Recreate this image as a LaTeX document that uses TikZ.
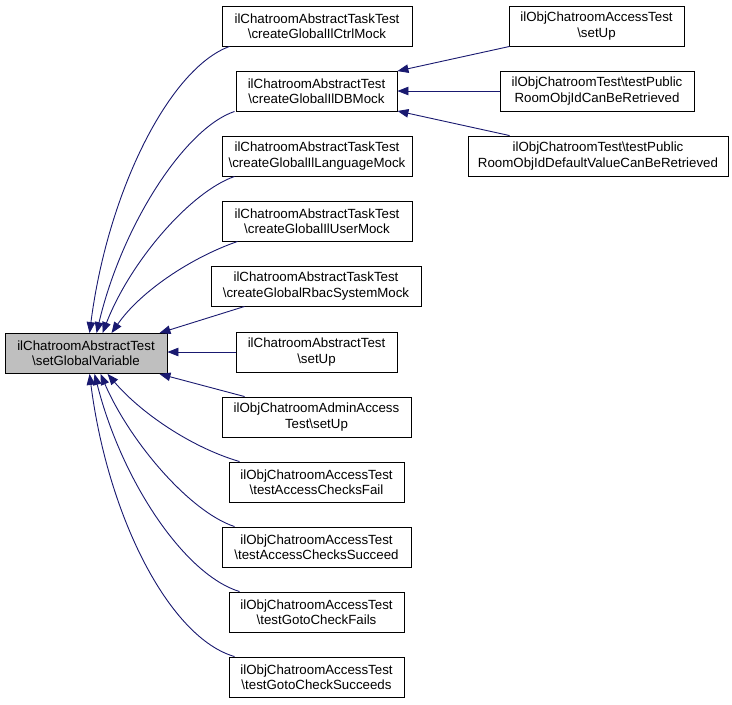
\documentclass[tikz,border=0pt]{standalone}
\usepackage{fontspec}
\setmainfont{Liberation Sans}
\usetikzlibrary{arrows.meta}
\definecolor{edgeblue}{HTML}{191970}
\definecolor{rootgray}{HTML}{BFBFBF}
\tikzset{
  fn/.style={draw=black, line width=0.9pt, fill=white, rectangle, inner sep=0pt,
    minimum height=40pt, align=center, font=\fontsize{13.3}{15.2}\selectfont},
  rootfn/.style={fn, fill=rootgray},
  call/.style={draw=edgeblue, line width=0.9pt, -{Triangle[length=11pt,width=8.5pt]}},
}
\begin{document}
\begin{tikzpicture}[x=1pt,y=-1pt]
\useasboundingbox (0,0) rectangle (732,705);
\fill[white] (0,0) rectangle (732,705);
% root
\node[rootfn, minimum width=162pt] (root) at (86,353.5) {ilChatroomAbstractTest\\\textbackslash setGlobalVariable};
% middle column
\node[fn, minimum width=190pt] (ctrl) at (317,26) {ilChatroomAbstractTaskTest\\\textbackslash createGlobalIlCtrlMock};
\node[fn, minimum width=161pt] (idb) at (316.5,91) {ilChatroomAbstractTest\\\textbackslash createGlobalIlDBMock};
\node[fn, minimum width=190pt] (lang) at (317,156) {ilChatroomAbstractTaskTest\\\textbackslash createGlobalIlLanguageMock};
\node[fn, minimum width=190pt] (user) at (317,221) {ilChatroomAbstractTaskTest\\\textbackslash createGlobalIlUserMock};
\node[fn, minimum width=210pt] (rbac) at (316,286) {ilChatroomAbstractTaskTest\\\textbackslash createGlobalRbacSystemMock};
\node[fn, minimum width=161pt] (absetup) at (316.5,352) {ilChatroomAbstractTest\\\textbackslash setUp};
\node[fn, minimum width=189pt] (admin) at (316.5,417) {ilObjChatroomAdminAccess\\Test\textbackslash setUp};
\node[fn, minimum width=175pt] (fail) at (316.5,482) {ilObjChatroomAccessTest\\\textbackslash testAccessChecksFail};
\node[fn, minimum width=189pt] (succ) at (316.5,547) {ilObjChatroomAccessTest\\\textbackslash testAccessChecksSucceed};
\node[fn, minimum width=175pt] (gfail) at (316.5,612) {ilObjChatroomAccessTest\\\textbackslash testGotoCheckFails};
\node[fn, minimum width=175pt] (gsucc) at (316.5,677) {ilObjChatroomAccessTest\\\textbackslash testGotoCheckSucceeds};
% right column
\node[fn, minimum width=175pt] (acsetup) at (596.5,26) {ilObjChatroomAccessTest\\\textbackslash setUp};
\node[fn, minimum width=194pt] (pubid) at (597,91) {ilObjChatroomTest\textbackslash testPublic\\RoomObjIdCanBeRetrieved};
\node[fn, minimum width=260pt] (pubdef) at (598,156) {ilObjChatroomTest\textbackslash testPublic\\RoomObjIdDefaultValueCanBeRetrieved};
% edges to idb
\draw[call] ([xshift=1pt]acsetup.south west) -- ([yshift=-0.5pt]idb.north east);
\draw[call] (pubid.west) -- (idb.east);
\draw[call] ([xshift=42pt]pubdef.north west) -- ([yshift=0.5pt]idb.south east);
% edges to root (upper)
\draw[call] ([xshift=8pt]ctrl.south west) .. controls (170,68) and (108,190) .. ([xshift=85pt]root.north west);
\draw[call] ([xshift=-1pt]idb.south west) .. controls (185,128) and (122,225) .. ([xshift=92pt]root.north west);
\draw[call] ([xshift=13pt]lang.south west) .. controls (190,192) and (130,262) .. ([xshift=98pt]root.north west);
\draw[call] ([xshift=16pt]user.south west) .. controls (190,258) and (140,292) .. ([xshift=107pt]root.north west);
\draw[call] ([xshift=34pt]rbac.south west) -- ([xshift=-8pt]root.north east);
\draw[call] (absetup.west) -- ([yshift=1.5pt]root.east);
% edges to root (lower)
\draw[call] ([xshift=23pt]admin.north west) -- ([xshift=-8pt]root.south east);
\draw[call] ([xshift=11pt]fail.north west) .. controls (190,447) and (140,412) .. ([xshift=103pt]root.south west);
\draw[call] ([xshift=13pt]succ.north west) .. controls (190,512) and (130,442) .. ([xshift=96pt]root.south west);
\draw[call] ([xshift=11pt]gfail.north west) .. controls (185,575) and (122,482) .. ([xshift=90pt]root.south west);
\draw[call] ([xshift=6pt]gsucc.north west) .. controls (170,638) and (108,518) .. ([xshift=85pt]root.south west);
\end{tikzpicture}
\end{document}
